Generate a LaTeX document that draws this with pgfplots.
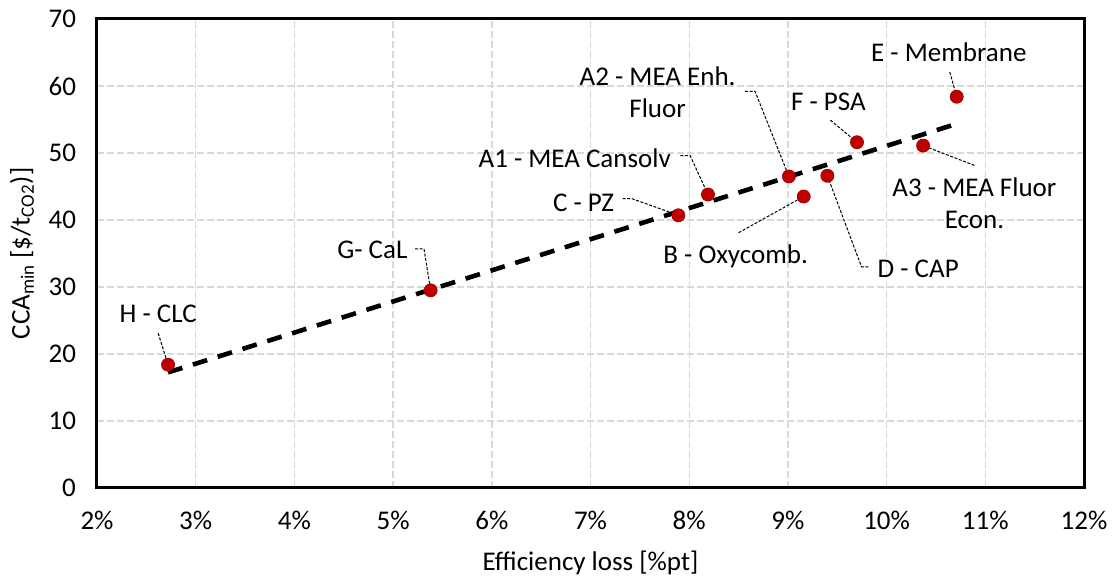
\documentclass[border=0pt]{standalone}
\usepackage{pgfplots}
\pgfplotsset{compat=1.18}
\usepackage{pgfplotstable}
\usepackage{fontspec}
\setmainfont{Carlito}
\newcommand\fs{\fontsize{13.5}{16}\selectfont}
\definecolor{ptred}{HTML}{C00000}
\definecolor{gridgray}{HTML}{D9D9D9}

\pgfplotstableread{
x y
2.72 18.4
5.38 29.5
7.89 40.7
8.19 43.8
9.01 46.5
9.16 43.5
9.40 46.6
9.70 51.6
10.37 51.1
10.71 58.4
}\pts

\pgfplotstableread{
x y
2.72 17.25
10.72 54.4
}\trend

\begin{document}
\begin{tikzpicture}
\begin{axis}[
  name=ax,
  scale only axis,
  width=493.5pt, height=234.5pt,
  xmin=2, xmax=12, ymin=0, ymax=70,
  xtick={2,3,...,12}, ytick={0,10,...,70},
  /pgf/number format/assume math mode=true,
  xticklabel={\pgfmathprintnumber{\tick}\%},
  tick label style={font=\fs},
  xticklabel style={yshift=-8pt},
  yticklabel style={xshift=-7pt},
  major tick length=0pt,
  grid=major,
  grid style={gridgray, line width=0.7pt, dash pattern=on 3.3pt off 1.7pt},
  axis line style={line width=1.5pt, black},
  xlabel={Efficiency loss [\%pt]},
  ylabel={CCA\textsubscript{min} [\$/t\textsubscript{CO2})]},
  label style={font=\fs},
  xlabel style={at={(axis description cs:0.5,-0.16)}, anchor=center},
  ylabel style={at={(axis description cs:-0.076,0.5)}, anchor=center},
  clip=false,
]
\addplot[only marks, mark=*, mark size=3.3pt, mark options={fill=ptred, draw=ptred!80!black, line width=0.3pt}] table {\pts};
\addplot[black, line width=2.3pt, dash pattern=on 7.5pt off 5.5pt] table {\trend};

% leader lines
\begin{scope}[black, line width=0.5pt, dash pattern=on 1.5pt off 0.8pt]
\draw (axis cs:10.64,62.1) -- (axis cs:10.71,58.4);
\draw (axis cs:9.43,54.9) -- (axis cs:9.70,51.6);
\draw (axis cs:8.565,59.2) -- (axis cs:8.667,59.2) -- (axis cs:9.01,46.5);
\draw (axis cs:7.91,49.6) -- (axis cs:8.01,49.6) -- (axis cs:8.19,43.8);
\draw (axis cs:7.325,43.2) -- (axis cs:7.416,43.2) -- (axis cs:7.89,40.7);
\draw (axis cs:8.50,38.1) -- (axis cs:9.16,43.5);
\draw (axis cs:9.815,33.0) -- (axis cs:9.746,33.0) -- (axis cs:9.40,46.6);
\draw (axis cs:10.89,48.15) -- (axis cs:10.37,51.1);
\draw (axis cs:5.222,35.7) -- (axis cs:5.313,35.7) -- (axis cs:5.38,29.5);
\draw (axis cs:2.62,23.1) -- (axis cs:2.72,18.4);
\end{scope}

% labels
\node[font=\fs, align=center] at (axis cs:10.63,65.0) {E - Membrane};
\node[font=\fs, align=center] at (axis cs:9.41,57.6) {F - PSA};
\node[font=\fs, align=center] at (axis cs:7.68,59.0) {A2 - MEA Enh.\\Fluor};
\node[font=\fs, align=center] at (axis cs:6.84,49.25) {A1 - MEA Cansolv};
\node[font=\fs, align=center] at (axis cs:6.93,42.6) {C - PZ};
\node[font=\fs, align=center] at (axis cs:8.47,34.6) {B - Oxycomb.};
\node[font=\fs, align=center] at (axis cs:10.32,32.7) {D - CAP};
\node[font=\fs, align=center] at (axis cs:10.89,42.5) {A3 - MEA Fluor\\Econ.};
\node[font=\fs, align=center] at (axis cs:4.79,35.6) {G- CaL};
\node[font=\fs, align=center] at (axis cs:2.62,26.0) {H - CLC};
\end{axis}
\pgfresetboundingbox
\useasboundingbox ([xshift=-48.5pt,yshift=-44.85pt]ax.south west) rectangle ([xshift=16.5pt,yshift=9.5pt]ax.north east);
\end{tikzpicture}
\end{document}
